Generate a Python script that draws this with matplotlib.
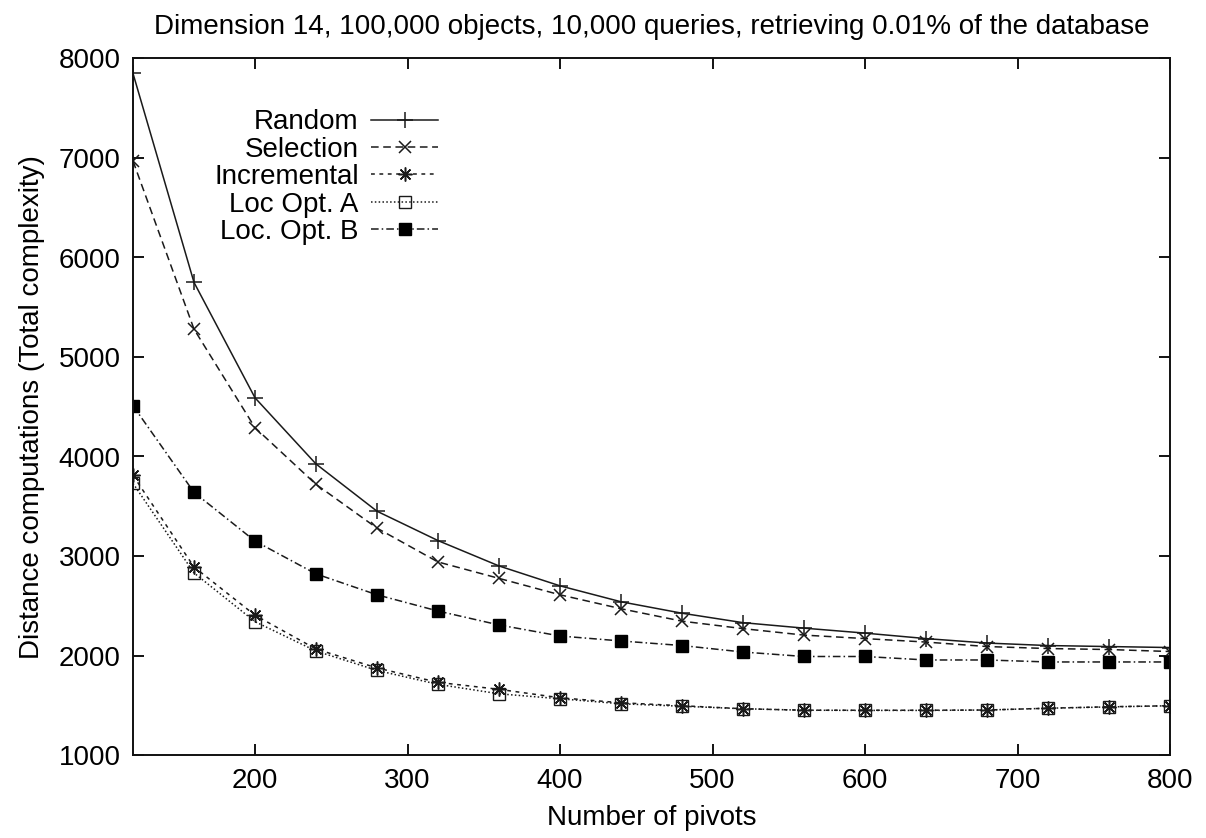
import matplotlib
matplotlib.use("Agg")
import matplotlib.pyplot as plt

pivots = [120, 160, 200, 240, 280, 320, 360, 400, 440, 480, 520, 560, 600, 640, 680, 720, 760, 800]
random_sel = [7850, 5750, 4590, 3925, 3450, 3155, 2900, 2700, 2540, 2425, 2330, 2275, 2225, 2170, 2125, 2100, 2090, 2080]
selection = [6970, 5280, 4290, 3720, 3280, 2940, 2775, 2610, 2470, 2345, 2270, 2205, 2170, 2135, 2090, 2070, 2060, 2040]
incremental = [3810, 2890, 2405, 2065, 1875, 1730, 1660, 1575, 1525, 1495, 1465, 1450, 1450, 1450, 1452, 1470, 1485, 1495]
loc_opt_a = [3730, 2830, 2340, 2045, 1850, 1710, 1615, 1565, 1515, 1490, 1465, 1450, 1448, 1448, 1452, 1470, 1483, 1495]
loc_opt_b = [4510, 3640, 3150, 2820, 2610, 2447, 2307, 2196, 2146, 2100, 2035, 1990, 1990, 1955, 1955, 1935, 1935, 1935]

labels = ["Random", "Selection", "Incremental", "Loc Opt. A", "Loc. Opt. B"]
x_ticks = [200, 300, 400, 500, 600, 700, 800]
y_ticks = [1000, 2000, 3000, 4000, 5000, 6000, 7000, 8000]

plt.rcParams['font.family'] = ['Liberation Sans', 'DejaVu Sans']
FS = 20

fig = plt.figure(figsize=(12.06, 8.38), dpi=100)
ax = fig.add_axes([133/1206, 83/838, (1170-133)/1206, (755-58.5)/838])

lc = '#1a1a1a'
lw = 1.1
ax.plot(pivots, random_sel, color=lc, lw=lw, ls='-', marker='+', ms=12, mew=1.1, label=labels[0])
ax.plot(pivots, selection, color=lc, lw=lw, ls=(0, (5, 3)), marker='x', ms=9, mew=1.1, label=labels[1])
ax.plot(pivots, incremental, color=lc, lw=lw, ls=(0, (2.5, 3)), marker=(8, 2, 0), ms=10, mew=1.1, label=labels[2])
ax.plot(pivots, loc_opt_a, color=lc, lw=lw, ls=(0, (1, 1.5)), marker='s', ms=8.5, mew=1.0, mfc='none', label=labels[3])
ax.plot(pivots, loc_opt_b, color=lc, lw=lw, ls=(0, (5, 2, 1, 2)), marker='s', ms=9, mfc='black', mec='black', label=labels[4])

ax.set_xlim(120, 800)
ax.set_ylim(1000, 8000)
ax.set_xticks(x_ticks)
ax.set_yticks(y_ticks)
ax.tick_params(direction='in', length=8, width=1.3, top=True, right=True, labelsize=FS, pad=9)
for s in ax.spines.values():
    s.set_linewidth(1.4)
    s.set_color('#111111')

ax.set_title("Dimension 14, 100,000 objects, 10,000 queries, retrieving 0.01% of the database",
             fontsize=FS, pad=18)
ax.set_xlabel("Number of pivots", fontsize=FS, labelpad=8)
ax.set_ylabel("Distance computations (Total complexity)", fontsize=FS, labelpad=10)

leg = ax.legend(loc='upper right', bbox_to_anchor=(0.294, 0.927), frameon=False, markerfirst=False,
                fontsize=FS, handlelength=2.4, handletextpad=0.45, labelspacing=0.05,
                borderpad=0, borderaxespad=0)

fig.savefig("out.png", dpi=100)
